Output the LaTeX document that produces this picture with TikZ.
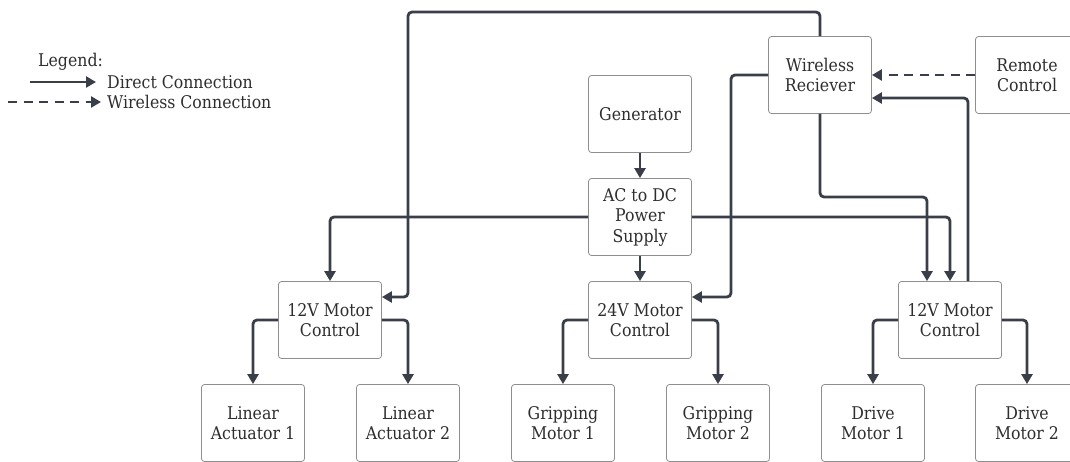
\documentclass[tikz,border=0pt]{standalone}
\usepackage{fontspec}
\setmainfont{DejaVu Serif Condensed}
\usetikzlibrary{arrows.meta,positioning}
\definecolor{wireGray}{HTML}{3A3E48}
\definecolor{boxGray}{HTML}{8E8E8E}
\definecolor{textGray}{HTML}{2E2E2E}

\begin{document}
\begin{tikzpicture}[x=1pt, y=-1pt,
    font=\fontsize{17.5}{20.5}\selectfont,
    block/.style={draw=boxGray, line width=0.8pt, rounded corners=3pt, fill=white,
      minimum width=103pt, minimum height=77pt, align=center, text=textGray, inner sep=2pt},
    wire/.style={draw=wireGray, line width=2.8pt, rounded corners=4pt,
      -{Triangle[length=10pt,width=11pt]}},
    radio/.style={wire, dash pattern=on 9pt off 6.5pt, rounded corners=0pt},
    legtext/.style={text=textGray, anchor=west, inner sep=2pt}]
  \useasboundingbox (0,0) rectangle (1070,461);
  % legend
  \node[legtext] (legend) at (36,62) {Legend:};
  \node[legtext] (ldirect) at (105,82) {Direct Connection};
  \node[legtext] (lradio) at (105,102) {Wireless Connection};
  \coordinate (ldirectS) at (30,82);
  \coordinate (lradioS) at (8,102);
  \draw[wire, shorten >=9pt] (ldirectS) -- (ldirect.west);
  \draw[radio, shorten >=4pt] (lradioS) -- (lradio.west);
  % power and control blocks
  \node[block] (gen)  at (640,114) {Generator};
  \node[block] (acdc) at (640,217) {AC to DC\\Power\\Supply};
  \node[block] (wrx)  at (820,75)  {Wireless\\Reciever};
  \node[block] (rc)   at (1027,75) {Remote\\Control};
  \node[block] (mcl)  at (330,320) {12V Motor\\Control};
  \node[block] (mcm)  at (640,320) {24V Motor\\Control};
  \node[block] (mcr)  at (950,320) {12V Motor\\Control};
  % actuators and motors
  \node[block] (la1) at (253,423)  {Linear\\Actuator 1};
  \node[block] (la2) at (408,423)  {Linear\\Actuator 2};
  \node[block] (gm1) at (563,423)  {Gripping\\Motor 1};
  \node[block] (gm2) at (718,423)  {Gripping\\Motor 2};
  \node[block] (dm1) at (873,423)  {Drive\\Motor 1};
  \node[block] (dm2) at (1027,423) {Drive\\Motor 2};
  % power lines
  \draw[wire] (gen) -- (acdc);
  \draw[wire] (acdc) -- (mcm);
  \draw[wire] (acdc.west) -| (mcl.north);
  \draw[wire] (acdc.east) -| (mcr.north);
  % wireless receiver lines
  \draw[radio] (rc.west) -- (wrx.east);
  \draw[wire] (wrx.north) |- (408,12) |- ([yshift=23pt]mcl.east);
  \draw[wire] (wrx.west) -| (731,297) -- ([yshift=23pt]mcm.east);
  \draw[wire] (wrx.south) |- (927,197) -- ([xshift=-23pt]mcr.north);
  \draw[wire] ([xshift=18pt]mcr.north) |- ([yshift=-23pt]wrx.east);
  % motor control outputs
  \draw[wire] (mcl.west) -| (la1.north);
  \draw[wire] (mcl.east) -| (la2.north);
  \draw[wire] (mcm.west) -| (gm1.north);
  \draw[wire] (mcm.east) -| (gm2.north);
  \draw[wire] (mcr.west) -| (dm1.north);
  \draw[wire] (mcr.east) -| (dm2.north);
\end{tikzpicture}
\end{document}
